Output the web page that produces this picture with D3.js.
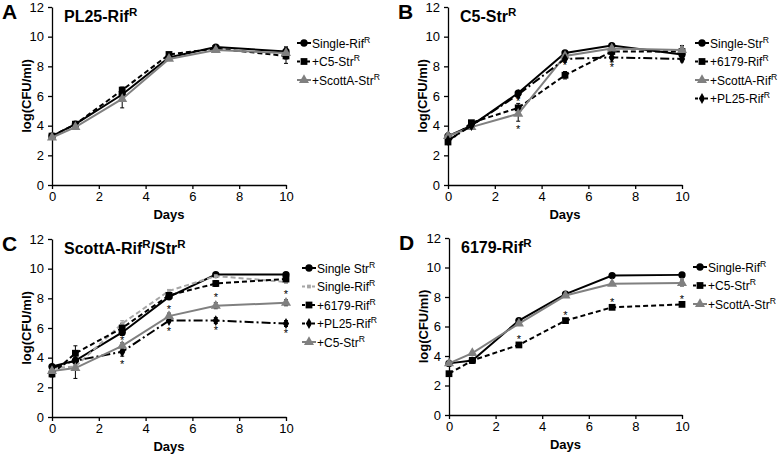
<!DOCTYPE html>
<html>
<head>
<meta charset="utf-8">
<script src="https://cdn.jsdelivr.net/npm/d3@7"></script>
<style>
body { margin: 0; background: #fff; }
svg { font-family: "Liberation Sans", Arial, sans-serif; }
</style>
</head>
<body>
<div id="grafico"></div>
<script>
// dias de amostragem e ticks
const days = [0, 1, 3, 5, 7, 10];
const xTicks = [0, 2, 4, 6, 8, 10];
const yTicks = [0, 2, 4, 6, 8, 10, 12];

// Painel A - PL25-RifR
const aSingleRif = [3.3, 4.1, 6.1, 8.6, 9.3, 9.0];
const aC5Str = [3.3, 4.1, 6.4, 8.8, 9.2, 8.7];
const aScottAStr = [3.2, 3.9, 5.8, 8.5, 9.1, 8.9];
const aSingleRifErr = [0.1, 0.15, 0.2, 0.1, 0.1, 0.3];
const aC5StrErr = [0.1, 0.1, 0.2, 0.15, 0.1, 0.5];
const aScottAStrErr = [0.1, 0.15, 0.6, 0.1, 0.1, 0.4];
const aStars = [];

// Painel B - C5-StrR
const bSingleStr = [3.3, 4.0, 6.2, 8.9, 9.4, 8.8];
const b6179Rif = [2.9, 4.2, 5.2, 7.4, 9.0, 9.0];
const bScottARif = [3.3, 3.9, 4.8, 8.7, 9.2, 9.1];
const bPL25Rif = [3.0, 4.0, 6.1, 8.5, 8.6, 8.5];
const bSingleStrErr = [0.1, 0.1, 0.1, 0.1, 0.1, 0.2];
const b6179RifErr = [0.1, 0.1, 0.3, 0.25, 0.2, 0.3];
const bScottARifErr = [0.2, 0.1, 0.5, 0.2, 0.15, 0.3];
const bPL25RifErr = [0.1, 0.1, 0.2, 0.2, 0.3, 0.2];
const bStars = [[3, 3.9], [3, 5.8], [5, 8.2], [7, 8.1], [7, 8.9]];

// Painel C - ScottA-RifR/StrR
const cSingleStr = [3.4, 3.8, 5.7, 8.1, 9.6, 9.6];
const cSingleRif = [3.3, 3.4, 6.3, 8.5, 9.5, 9.1];
const c6179Rif = [2.9, 4.3, 6.0, 8.2, 9.0, 9.3];
const cPL25Rif = [3.3, 3.8, 4.4, 6.5, 6.5, 6.3];
const cC5Str = [3.1, 3.3, 4.8, 6.8, 7.5, 7.7];
const cSingleStrErr = [0.1, 0.2, 0.2, 0.15, 0.1, 0.1];
const cSingleRifErr = [0.1, 0.2, 0.2, 0.1, 0.1, 0.1];
const c6179RifErr = [0.2, 0.5, 0.3, 0.2, 0.2, 0.2];
const cPL25RifErr = [0.1, 0.3, 0.3, 0.1, 0.2, 0.2];
const cC5StrErr = [0.2, 0.7, 0.2, 0.2, 0.2, 0.2];
const cStars = [[3, 3.7], [3, 5.3], [5, 7.4], [5, 5.9], [7, 8.2], [7, 6.0], [10, 8.4], [10, 5.8]];

// Painel D - 6179-RifR
const dSingleRif = [3.5, 3.7, 6.4, 8.2, 9.45, 9.5];
const dC5Str = [2.8, 3.7, 4.75, 6.4, 7.3, 7.5];
const dScottAStr = [3.5, 4.2, 6.2, 8.1, 8.9, 8.95];
const dSingleRifErr = [0.1, 0.1, 0.1, 0.1, 0.1, 0.1];
const dC5StrErr = [0.1, 0.1, 0.1, 0.1, 0.1, 0.1];
const dScottAStrErr = [0.1, 0.1, 0.1, 0.1, 0.1, 0.2];
const dStars = [[3, 5.3], [5, 6.9], [7, 7.8], [10, 8.0]];

// estilos das series
const BLACK = "#000";
const GRAY = "#808080";
const LIGHT = "#a6a6a6";
const SOLID = null, DASH = "5,3", DASHDOT = "9,3,2,3";

const panels = [
  { letter: "A", title: "PL25-Rif^R", left: 52, right: 286, top: 7, bottom: 185, legX: 297, legY: 43, stars: aStars,
    series: [
      { label: "Single-Rif^R", values: aSingleRif, err: aSingleRifErr, color: BLACK, dash: SOLID, marker: "circle" },
      { label: "+C5-Str^R", values: aC5Str, err: aC5StrErr, color: BLACK, dash: DASH, marker: "square" },
      { label: "+ScottA-Str^R", values: aScottAStr, err: aScottAStrErr, color: GRAY, dash: SOLID, marker: "triangle" }
    ] },
  { letter: "B", title: "C5-Str^R", left: 448, right: 682, top: 7, bottom: 185, legX: 695, legY: 43, stars: bStars,
    series: [
      { label: "Single-Str^R", values: bSingleStr, err: bSingleStrErr, color: BLACK, dash: SOLID, marker: "circle" },
      { label: "+6179-Rif^R", values: b6179Rif, err: b6179RifErr, color: BLACK, dash: DASH, marker: "square" },
      { label: "+ScottA-Rif^R", values: bScottARif, err: bScottARifErr, color: GRAY, dash: SOLID, marker: "triangle" },
      { label: "+PL25-Rif^R", values: bPL25Rif, err: bPL25RifErr, color: BLACK, dash: DASHDOT, marker: "diamond" }
    ] },
  { letter: "C", title: "ScottA-Rif^R/Str^R", left: 52, right: 286, top: 239, bottom: 417, legX: 302, legY: 268, stars: cStars,
    series: [
      { label: "Single Str^R", values: cSingleStr, err: cSingleStrErr, color: BLACK, dash: SOLID, marker: "circle" },
      { label: "Single-Rif^R", values: cSingleRif, err: cSingleRifErr, color: LIGHT, dash: DASH, marker: "small" },
      { label: "+6179-Rif^R", values: c6179Rif, err: c6179RifErr, color: BLACK, dash: DASH, marker: "square" },
      { label: "+PL25-Rif^R", values: cPL25Rif, err: cPL25RifErr, color: BLACK, dash: DASHDOT, marker: "diamond" },
      { label: "+C5-Str^R", values: cC5Str, err: cC5StrErr, color: GRAY, dash: SOLID, marker: "triangle" }
    ] },
  { letter: "D", title: "6179-Rif^R", left: 449, right: 682, top: 238, bottom: 415, legX: 693, legY: 267, stars: dStars,
    series: [
      { label: "Single-Rif^R", values: dSingleRif, err: dSingleRifErr, color: BLACK, dash: SOLID, marker: "circle" },
      { label: "+C5-Str^R", values: dC5Str, err: dC5StrErr, color: BLACK, dash: DASH, marker: "square" },
      { label: "+ScottA-Str^R", values: dScottAStr, err: dScottAStrErr, color: GRAY, dash: SOLID, marker: "triangle" }
    ] }
];

const svg = d3.select("#grafico").append("svg")
  .attr("width", 780)
  .attr("height", 455);

// escreve texto com sobrescrito ("^R")
function richText(sel, str, size) {
  const parts = str.split("^");
  sel.append("tspan").text(parts[0]);
  for (let i = 1; i < parts.length; i++) {
    const sup = parts[i].charAt(0);
    const rest = parts[i].slice(1);
    sel.append("tspan").attr("dy", -size * 0.38).attr("font-size", size * 0.72).text(sup);
    if (rest) sel.append("tspan").attr("dy", size * 0.38).attr("font-size", size).text(rest);
  }
}

function markerPath(type) {
  const sym = {
    circle: [d3.symbolCircle, 42],
    square: [d3.symbolSquare, 46],
    triangle: [d3.symbolTriangle, 44],
    diamond: [d3.symbolDiamond, 34],
    small: [d3.symbolSquare, 14]
  }[type];
  return d3.symbol().type(sym[0]).size(sym[1])();
}

panels.forEach(p => {
  const x = d3.scaleLinear().domain([0, 10]).range([p.left, p.right]);
  const y = d3.scaleLinear().domain([0, 12]).range([p.bottom, p.top]);
  const g = svg.append("g");

  // eixos
  const ax = g.append("g")
    .attr("transform", `translate(0,${p.bottom})`)
    .call(d3.axisBottom(x).tickValues(xTicks).tickSize(4).tickSizeOuter(0).tickPadding(3));
  const ay = g.append("g")
    .attr("transform", `translate(${p.left},0)`)
    .call(d3.axisLeft(y).tickValues(yTicks).tickSize(4).tickSizeOuter(0).tickPadding(4));
  [ax, ay].forEach(a => {
    a.selectAll("text").attr("font-size", 13).attr("fill", "#000")
      .attr("font-family", "'Liberation Sans', Arial, sans-serif");
    a.selectAll("path, line").attr("stroke", "#000").attr("stroke-width", 1.3);
  });

  // titulos dos eixos
  g.append("text")
    .attr("x", (p.left + p.right) / 2).attr("y", p.bottom + 34)
    .attr("text-anchor", "middle").attr("font-size", 13).attr("font-weight", "bold")
    .text("Days");
  g.append("text")
    .attr("transform", `translate(${p.left - 21},${(p.top + p.bottom) / 2}) rotate(-90)`)
    .attr("text-anchor", "middle").attr("font-size", 13).attr("font-weight", "bold")
    .text("log(CFU/ml)");

  // letra do painel e titulo
  g.append("text")
    .attr("x", p.left - 50).attr("y", p.top + 12)
    .attr("font-size", 21).attr("font-weight", "bold")
    .text(p.letter);
  richText(g.append("text")
    .attr("x", p.left + 12).attr("y", p.top + 15)
    .attr("font-size", 16).attr("font-weight", "bold"), p.title, 16);

  // barras de erro
  p.series.forEach(s => {
    const eg = g.append("g").attr("stroke", s.color === LIGHT ? LIGHT : "#000").attr("stroke-width", 1);
    s.values.forEach((v, i) => {
      const e = s.err[i];
      const cx = x(days[i]);
      eg.append("line").attr("x1", cx).attr("x2", cx).attr("y1", y(v - e)).attr("y2", y(v + e));
      eg.append("line").attr("x1", cx - 2).attr("x2", cx + 2).attr("y1", y(v - e)).attr("y2", y(v - e));
      eg.append("line").attr("x1", cx - 2).attr("x2", cx + 2).attr("y1", y(v + e)).attr("y2", y(v + e));
    });
  });

  // linhas e marcadores
  const line = d3.line().x((d, i) => x(days[i])).y(d => y(d));
  p.series.forEach(s => {
    g.append("path")
      .datum(s.values)
      .attr("d", line)
      .attr("fill", "none")
      .attr("stroke", s.color)
      .attr("stroke-width", 2)
      .attr("stroke-dasharray", s.dash);
    g.selectAll(null)
      .data(s.values)
      .enter().append("path")
      .attr("d", markerPath(s.marker))
      .attr("transform", (d, i) => `translate(${x(days[i])},${y(d)})`)
      .attr("fill", s.color);
  });

  // asteriscos
  g.selectAll(null)
    .data(p.stars)
    .enter().append("text")
    .attr("x", d => x(d[0]))
    .attr("y", d => y(d[1]) + 6)
    .attr("text-anchor", "middle")
    .attr("font-size", 11)
    .attr("fill", "#000")
    .text("*");

  // legenda
  p.series.forEach((s, i) => {
    const ly = p.legY + i * 18.5;
    const lg = g.append("g");
    lg.append("line")
      .attr("x1", p.legX).attr("x2", p.legX + 14)
      .attr("y1", ly).attr("y2", ly)
      .attr("stroke", s.color).attr("stroke-width", 2)
      .attr("stroke-dasharray", s.dash ? "3,2" : null);
    lg.append("path")
      .attr("d", markerPath(s.marker))
      .attr("transform", `translate(${p.legX + 7},${ly})`)
      .attr("fill", s.color);
    richText(lg.append("text")
      .attr("x", p.legX + 15).attr("y", ly + 4.5)
      .attr("font-size", 12), s.label, 12);
  });
});
</script>
</body>
</html>
